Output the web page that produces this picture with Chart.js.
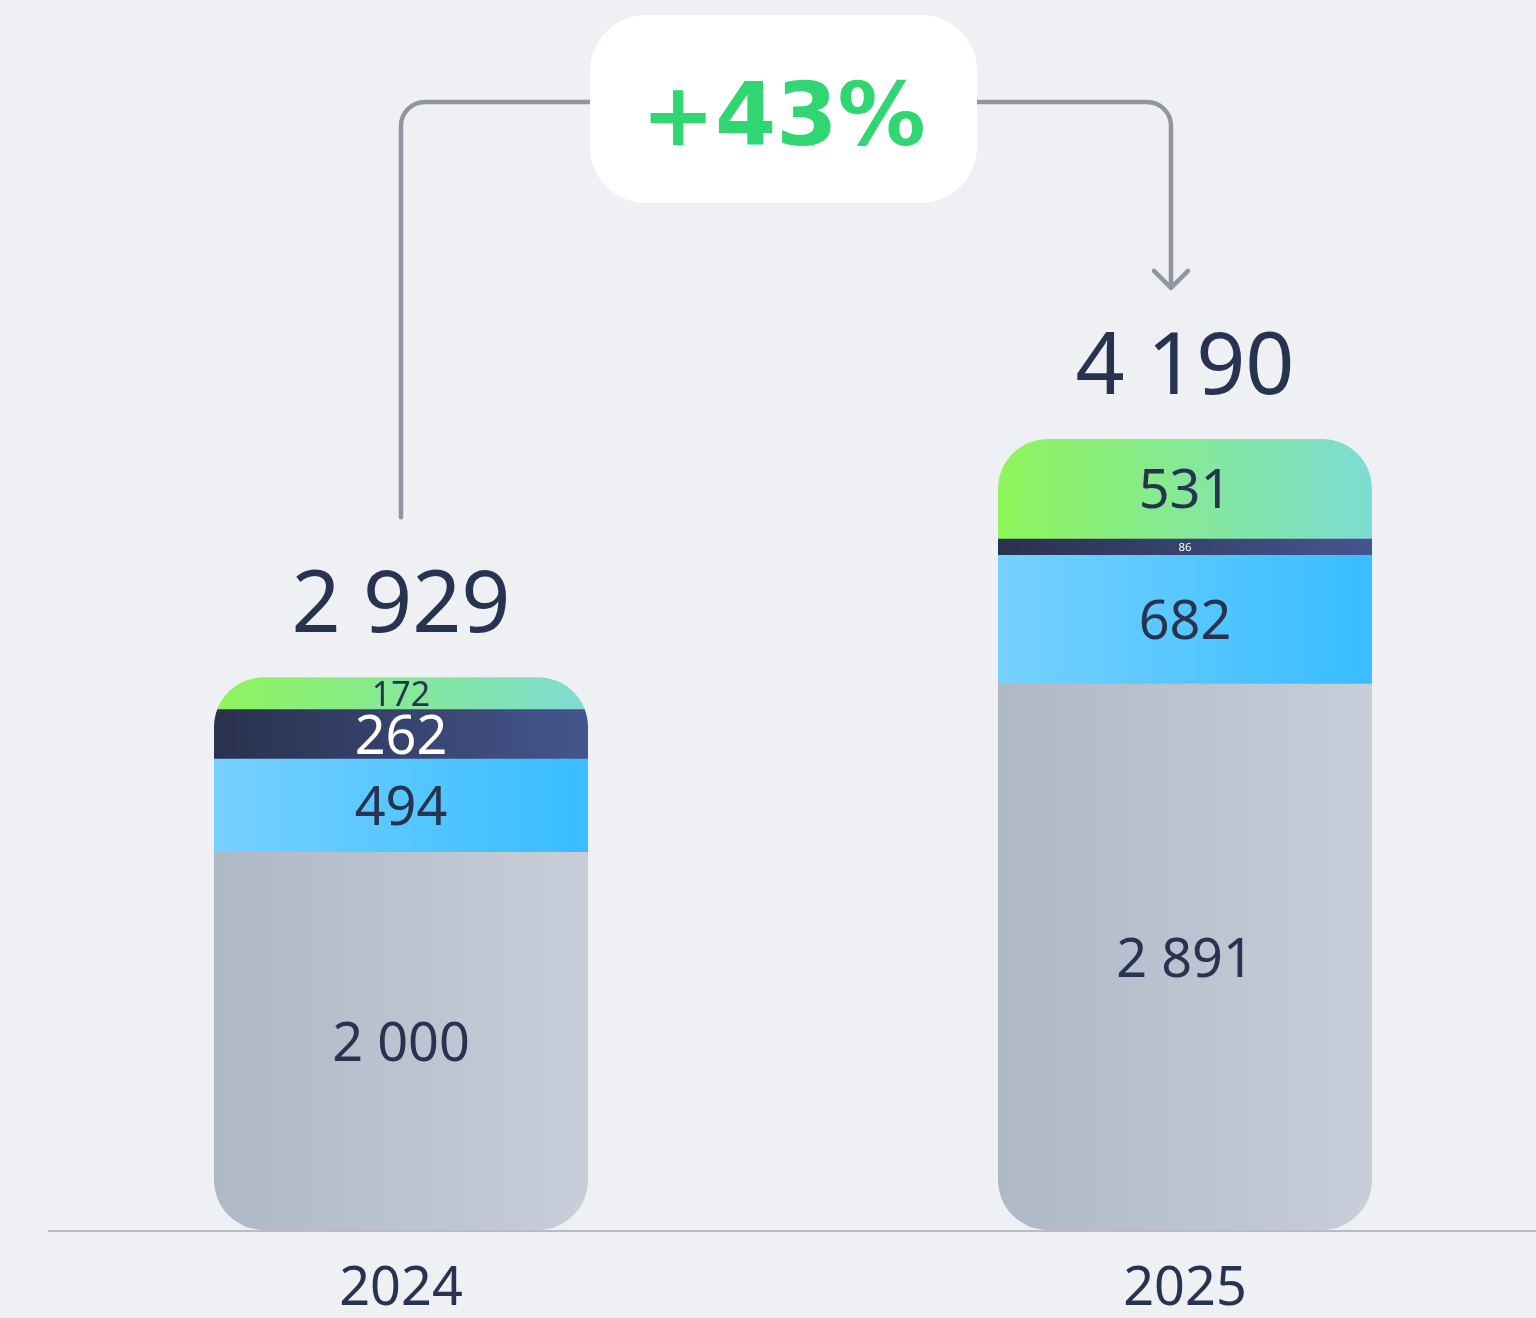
<!DOCTYPE html>
<html>
<head>
<meta charset="utf-8">
<title>2024 – 2025</title>
<script src="https://cdn.jsdelivr.net/npm/chart.js@4/dist/chart.umd.min.js"></script>
<style>
  html, body { margin: 0; padding: 0; background: #eef0f3; }
  #wrap { width: 1536px; height: 1318px; position: relative; }
</style>
</head>
<body>
<div id="wrap"><canvas id="c"></canvas></div>
<script>
// ---- data ----
const categories   = ['2024', '2025'];
const baseValues   = [2000, 2891];   // grey segment
const blueValues   = [494, 682];     // light-blue segment
const navyValues   = [262, 86];      // dark-navy segment
const greenValues  = [172, 531];     // green segment
const totals       = [2929, 4190];   // printed totals
const growthLabel  = '+43%';

// ---- styling ----
const BG = '#eef0f3';
const TEXT = '#28334f';
const BAR_W = 374;
const FONT = '"Noto Sans", "Open Sans", sans-serif';

function fmt(v) { return String(v).replace(/\B(?=(\d{3})+(?!\d))/g, ' '); }

function grad(c0, c1) {
  return (ctx) => {
    if (ctx.type !== 'data') return c0;
    const chart = ctx.chart;
    const xs = chart.scales && chart.scales.x;
    if (!xs || !chart.chartArea) return c0;
    const cx = xs.getPixelForValue(ctx.dataIndex);
    const g = chart.ctx.createLinearGradient(cx - BAR_W / 2, 0, cx + BAR_W / 2, 0);
    g.addColorStop(0, c0);
    g.addColorStop(1, c1);
    return g;
  };
}

const toXY = arr => arr.map((v, i) => ({ x: i, y: v }));

const series = [
  { values: baseValues,  c0: '#aeb8c7', c1: '#c8ced9', text: TEXT },
  { values: blueValues,  c0: '#76d1ff', c1: '#38bdff', text: TEXT },
  { values: navyValues,  c0: '#29314d', c1: '#45568e', text: '#ffffff' },
  { values: greenValues, c0: '#8ef55a', c1: '#7ddcd3', text: TEXT }
];

const stackPlugin = {
  id: 'stackDecor',
  beforeDraw(chart) {
    const c = chart.ctx;
    c.save();
    c.fillStyle = BG;
    c.fillRect(0, 0, chart.width, chart.height);
    c.restore();
  },
  beforeDatasetsDraw(chart) {
    const c = chart.ctx;
    const first = chart.getDatasetMeta(0).data;
    const last = chart.getDatasetMeta(series.length - 1).data;
    c.save();
    c.beginPath();
    for (let i = 0; i < categories.length; i++) {
      const top = last[i].y;
      const bottom = first[i].base;
      const x = first[i].x - first[i].width / 2;
      c.roundRect(x, top, first[i].width, bottom - top, 50);
    }
    c.clip();
  },
  afterDatasetsDraw(chart) {
    const c = chart.ctx;
    c.restore();
    const area = chart.chartArea;
    // base line
    c.save();
    c.strokeStyle = '#b9bbbf';
    c.lineWidth = 2;
    c.beginPath();
    c.moveTo(48, area.bottom + 1);
    c.lineTo(chart.width, area.bottom + 1);
    c.stroke();
    c.restore();

    // segment labels
    c.save();
    c.textAlign = 'center';
    c.textBaseline = 'alphabetic';
    series.forEach((s, d) => {
      const els = chart.getDatasetMeta(d).data;
      els.forEach((el, i) => {
        const h = el.base - el.y;
        const size = Math.max(11, Math.min(54, (h - 8) / 0.72));
        c.font = `400 ${size}px ${FONT}`;
        c.fillStyle = s.text;
        const cy = (el.y + el.base) / 2;
        c.fillText(fmt(s.values[i]), el.x, cy + size * 0.36);
      });
    });

    // totals & year labels
    const last = chart.getDatasetMeta(series.length - 1).data;
    last.forEach((el, i) => {
      c.font = `400 86px ${FONT}`;
      c.fillStyle = TEXT;
      c.fillText(fmt(totals[i]), el.x, el.y - 76 + 86 * 0.36);
      c.font = `400 54px ${FONT}`;
      c.fillText(categories[i], el.x, area.bottom + 56 + 54 * 0.36);
    });
    c.restore();

    // connector with growth badge
    const x0 = last[0].x;
    const x1 = last[1].x - 14;
    const yLine = 102;
    const r = 24;
    const boxL = 590, boxR = 977, boxT = 15, boxB = 203;
    const tip = last[1].y - 151;
    c.save();
    c.strokeStyle = '#92959d';
    c.lineWidth = 4.5;
    c.lineCap = 'round';
    c.lineJoin = 'round';
    c.beginPath();
    c.moveTo(x0, last[0].y - 160);
    c.lineTo(x0, yLine + r);
    c.arcTo(x0, yLine, x0 + r, yLine, r);
    c.lineTo(boxL, yLine);
    c.moveTo(boxR, yLine);
    c.lineTo(x1 - r, yLine);
    c.arcTo(x1, yLine, x1, yLine + r, r);
    c.lineTo(x1, tip);
    c.moveTo(x1 - 17, tip - 17);
    c.lineTo(x1, tip);
    c.lineTo(x1 + 17, tip - 17);
    c.stroke();

    c.fillStyle = '#ffffff';
    c.beginPath();
    c.roundRect(boxL, boxT, boxR - boxL, boxB - boxT, 56);
    c.fill();

    c.fillStyle = '#2fd672';
    c.font = `700 88px "DejaVu Sans", sans-serif`;
    c.textAlign = 'center';
    c.textBaseline = 'alphabetic';
    c.fillText(growthLabel, (boxL + boxR) / 2, 145);
    c.restore();
  }
};

new Chart(document.getElementById('c'), {
  type: 'bar',
  data: {
    datasets: series.map((s, d) => ({
      label: 'segment ' + (d + 1),
      data: toXY(s.values),
      backgroundColor: grad(s.c0, s.c1),
      borderWidth: 0,
      borderSkipped: false,
      borderRadius: 0,
      barThickness: BAR_W
    }))
  },
  options: {
    responsive: true,
    maintainAspectRatio: false,
    animation: false,
    events: [],
    layout: { padding: { top: 286, bottom: 88, left: 0, right: 0 } },
    plugins: { legend: { display: false }, tooltip: { enabled: false } },
    scales: {
      x: { type: 'linear', stacked: true, display: false, offset: false, min: -0.51148, max: 1.4477 },
      y: { stacked: true, display: false, min: 0, max: 5000 }
    }
  },
  plugins: [stackPlugin]
});
</script>
</body>
</html>
